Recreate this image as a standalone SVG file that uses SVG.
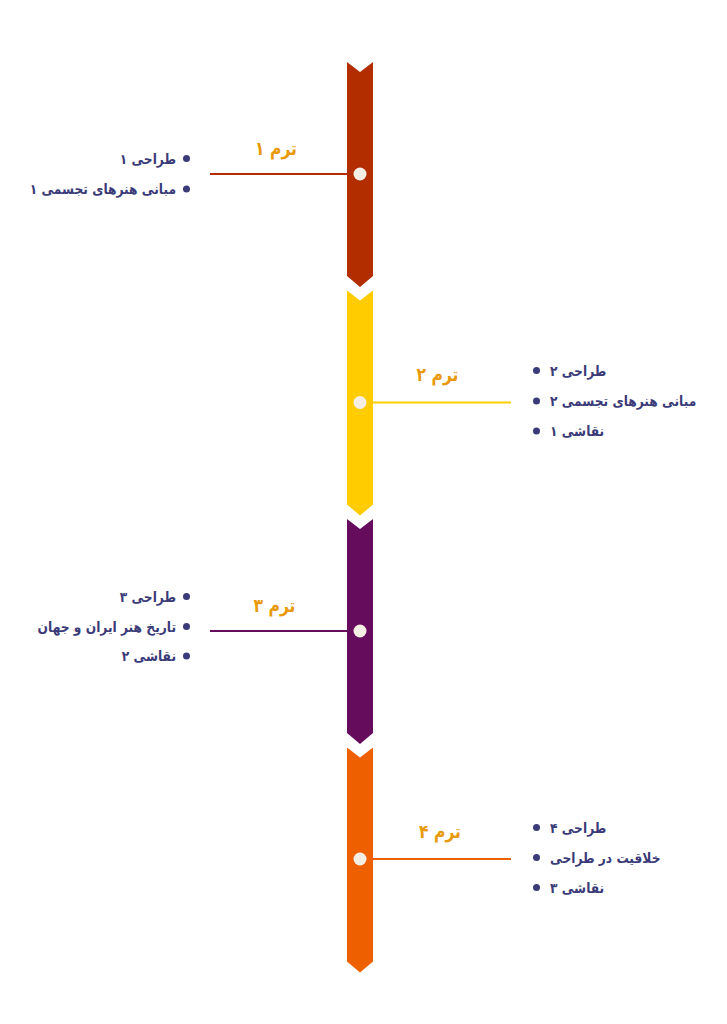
<svg xmlns="http://www.w3.org/2000/svg" width="727" height="1024" viewBox="0 0 727 1024">
<style>
.term{font-family:"DejaVu Sans","Noto Sans",sans-serif;font-weight:bold;font-size:19px;fill:#E99A0C;text-anchor:middle}
.item{font-family:"DejaVu Sans","Noto Sans",sans-serif;font-weight:bold;font-size:14px;fill:#3A3B78}
.l{text-anchor:end}
.r{text-anchor:start}
.dot{fill:#F5EEE4}
.bul{fill:#3A3B78}
</style>
<rect width="727" height="1024" fill="#FFFFFF"/>
<g id="connectors" stroke-width="2.2" fill="none">
<line x1="210" y1="174" x2="350" y2="174" stroke="#B22D00"/>
<line x1="370" y1="402.5" x2="511" y2="402.5" stroke="#FFCC00"/>
<line x1="210" y1="631" x2="350" y2="631" stroke="#650D5C"/>
<line x1="370" y1="859" x2="511" y2="859" stroke="#EE5F00"/>
</g>
<g id="term1">
<path d="M347,62 L360,72 L373,62 L373,276 L360,287 L347,276 Z" fill="#B22D00"/>
<circle class="dot" cx="360" cy="174" r="6.5"/>
<text class="term" transform="translate(276,155) scale(0.82,1)">ترم ۱</text>
<circle class="bul" cx="186.5" cy="158.5" r="3.5"/>
<text class="item l" transform="translate(176,163.5) scale(0.875,1)">طراحی ۱</text>
<circle class="bul" cx="186.5" cy="189" r="3.5"/>
<text class="item l" transform="translate(176,194) scale(0.875,1)">مبانی هنرهای تجسمی ۱</text>
</g>
<g id="term2">
<path d="M347,290.5 L360,300.5 L373,290.5 L373,504.5 L360,515.5 L347,504.5 Z" fill="#FFCC00"/>
<circle class="dot" cx="360" cy="402.5" r="6.5"/>
<text class="term" transform="translate(437.5,381) scale(0.82,1)">ترم ۲</text>
<circle class="bul" cx="536.5" cy="370.5" r="3.5"/>
<text class="item r" transform="translate(550,375.5) scale(0.875,1)">طراحی ۲</text>
<circle class="bul" cx="536.5" cy="401" r="3.5"/>
<text class="item r" transform="translate(550,406) scale(0.875,1)">مبانی هنرهای تجسمی ۲</text>
<circle class="bul" cx="536.5" cy="431" r="3.5"/>
<text class="item r" transform="translate(550,436) scale(0.875,1)">نقاشی ۱</text>
</g>
<g id="term3">
<path d="M347,519 L360,529 L373,519 L373,733 L360,744 L347,733 Z" fill="#650D5C"/>
<circle class="dot" cx="360" cy="631" r="6.5"/>
<text class="term" transform="translate(274.5,612) scale(0.82,1)">ترم ۳</text>
<circle class="bul" cx="186.5" cy="596.5" r="3.5"/>
<text class="item l" transform="translate(176,601.5) scale(0.875,1)">طراحی ۳</text>
<circle class="bul" cx="186.5" cy="626.5" r="3.5"/>
<text class="item l" transform="translate(176,631.5) scale(0.875,1)">تاریخ هنر ایران و جهان</text>
<circle class="bul" cx="186.5" cy="656" r="3.5"/>
<text class="item l" transform="translate(176,661) scale(0.875,1)">نقاشی ۲</text>
</g>
<g id="term4">
<path d="M347,747.5 L360,757.5 L373,747.5 L373,961.5 L360,972.5 L347,961.5 Z" fill="#EE5F00"/>
<circle class="dot" cx="360" cy="859" r="6.5"/>
<text class="term" transform="translate(440,838) scale(0.82,1)">ترم ۴</text>
<circle class="bul" cx="536.5" cy="827.5" r="3.5"/>
<text class="item r" transform="translate(550,832.5) scale(0.875,1)">طراحی ۴</text>
<circle class="bul" cx="536.5" cy="857.5" r="3.5"/>
<text class="item r" transform="translate(550,862.5) scale(0.875,1)">خلاقیت در طراحی</text>
<circle class="bul" cx="536.5" cy="887.5" r="3.5"/>
<text class="item r" transform="translate(550,892.5) scale(0.875,1)">نقاشی ۳</text>
</g>
</svg>
